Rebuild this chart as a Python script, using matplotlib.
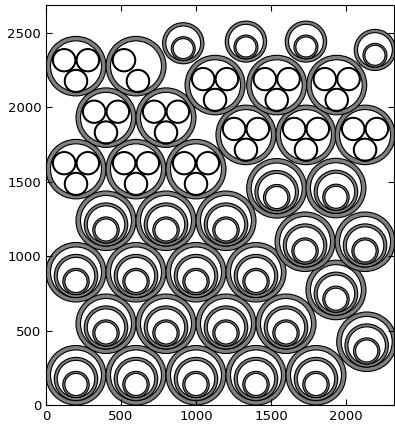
import matplotlib
matplotlib.use('Agg')
import matplotlib.pyplot as plt
from matplotlib.patches import Wedge

# ring sizes (outer radius, ring width)
BIG = (200, 30)
MID = (145, 20)
INNER = (88, 14)
SMALL = (138, 22)
SMALL_IN = (80, 13)
TRI = (78, 6)

# big pipes holding nested pipes
nested_x = [200, 600, 1000, 1400, 1800,
            400, 800, 1200, 1600, 2138,
            200, 600, 1000, 1400, 1933,
            400, 800, 1200, 1727, 2127,
            1538, 1933]
nested_y = [200, 200, 200, 200, 200,
            546, 546, 546, 546, 425,
            892, 892, 892, 892, 773,
            1238, 1238, 1238, 1097, 1097,
            1456, 1458]

# big pipes holding three small pipes
triple_x = [200, 600, 1000, 400, 800, 1333, 1733, 2127, 200, 1127, 1538, 1938]
triple_y = [1585, 1585, 1585, 1931, 1931, 1815, 1815, 1815, 2277, 2150, 2150, 2150]

# big pipe holding only two small pipes
double_x = [600]
double_y = [2277]

# small pipes holding one pipe
small_x = [915, 1333, 1733, 2193]
small_y = [2431, 2442, 2442, 2386]

GRAY = '#808080'


def ring(ax, x, y, size, lw=0.8):
    r, w = size
    ax.add_patch(Wedge((x, y), r, 0, 360, width=w, facecolor=GRAY,
                       edgecolor='black', linewidth=lw))


fig = plt.figure(figsize=(3.95, 4.25), dpi=100)
ax = fig.add_axes([46 / 395, 20 / 425, 348 / 395, 400 / 425])

for x, y in zip(nested_x, nested_y):
    ring(ax, x, y, BIG)
    ym = y - (BIG[0] - BIG[1] - MID[0])
    ring(ax, x, ym, MID)
    yi = ym - (MID[0] - MID[1] - INNER[0])
    ring(ax, x, yi, INNER)

for x, y in zip(triple_x, triple_y):
    ring(ax, x, y, BIG)
    for dx, dy in [(-79, 40), (79, 40), (0, -100)]:
        ring(ax, x + dx, y + dy, TRI)

for x, y in zip(double_x, double_y):
    ring(ax, x, y, BIG)
    for dx, dy in [(-80, 40), (13, -100)]:
        ring(ax, x + dx, y + dy, TRI)

for x, y in zip(small_x, small_y):
    ring(ax, x, y, SMALL)
    ring(ax, x, y - (SMALL[0] - SMALL[1] - SMALL_IN[0]), SMALL_IN)

ax.set_xlim(0, 2320)
ax.set_ylim(0, 2688)
ax.set_xticks([0, 500, 1000, 1500, 2000])
ax.set_yticks([0, 500, 1000, 1500, 2000, 2500])
ax.tick_params(direction='in', top=True, right=True, length=4, labelsize=9.5)
plt.savefig('out.png', dpi=100)
